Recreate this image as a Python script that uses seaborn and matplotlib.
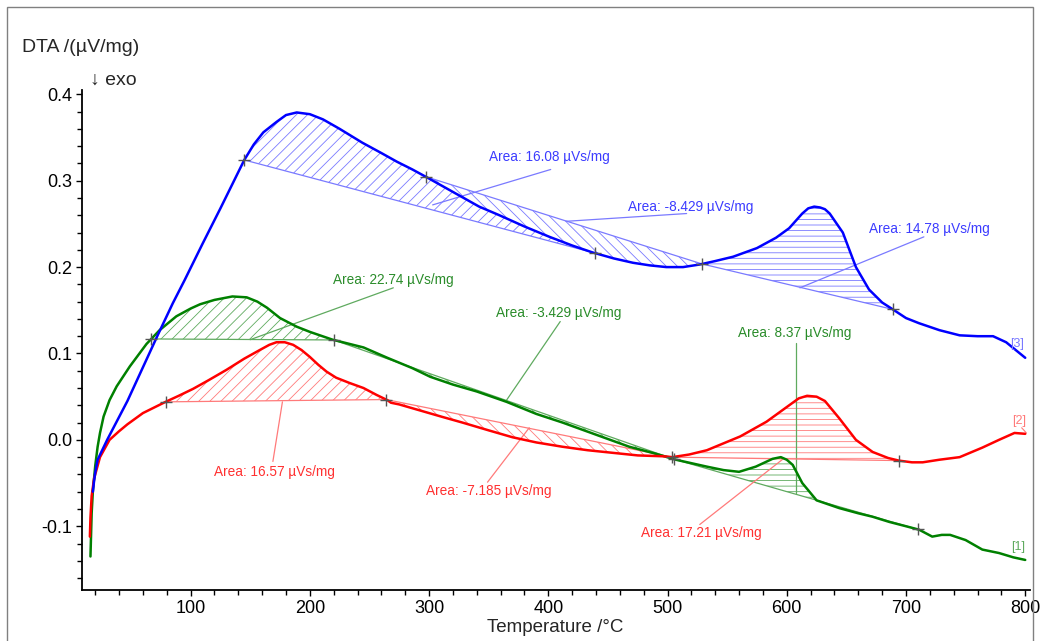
import numpy as np
import pandas as pd
import matplotlib
matplotlib.use("Agg")
import matplotlib.pyplot as plt
from matplotlib.patches import Rectangle
from matplotlib.ticker import MultipleLocator
import seaborn as sns

# ---------------- data ----------------
blue_T = [18, 19, 20, 22, 30, 47, 60, 72, 85, 95, 110, 125, 135, 145, 153, 161, 172, 180, 189,
          200, 211, 225, 244, 260, 273, 286, 298, 320, 342, 359, 380, 401, 420, 437, 455, 471,
          485, 499, 513, 527, 540, 555, 575, 591, 602, 613, 618, 623, 628, 632, 636, 647, 658,
          669, 680, 689, 700, 711, 728, 745, 760, 773, 784, 792, 800]
blue_y = [-0.06, -0.048, -0.038, -0.023, 0.0, 0.045, 0.084, 0.12, 0.158, 0.185, 0.227, 0.268,
          0.296, 0.324, 0.342, 0.356, 0.368, 0.376, 0.379, 0.377, 0.371, 0.36, 0.344, 0.332,
          0.322, 0.313, 0.304, 0.287, 0.27, 0.26, 0.247, 0.235, 0.225, 0.217, 0.21, 0.205,
          0.202, 0.2, 0.2, 0.203, 0.207, 0.212, 0.222, 0.234, 0.245, 0.262, 0.268, 0.27, 0.269,
          0.267, 0.262, 0.24, 0.2, 0.174, 0.159, 0.151, 0.141, 0.135, 0.127, 0.121, 0.12, 0.12,
          0.113, 0.104, 0.095]

red_T = [15.5, 16, 17, 19, 22, 24, 32, 40, 47, 60, 79, 90, 102, 115, 130, 145, 158, 166, 172,
         179, 186, 193, 200, 207, 214, 222, 233, 245, 256, 265, 268, 275, 290, 310, 328, 350,
         370, 390, 412, 433, 454, 475, 496, 504, 518, 533, 547, 561, 583, 602, 610, 617, 625,
         632, 644, 658, 672, 685, 694, 705, 714, 728, 745, 764, 778, 791, 800]
red_y = [-0.112, -0.09, -0.065, -0.045, -0.03, -0.02, 0.0, 0.01, 0.018, 0.031, 0.044, 0.051,
         0.059, 0.069, 0.081, 0.094, 0.104, 0.11, 0.113, 0.113, 0.11, 0.104, 0.096, 0.087,
         0.079, 0.072, 0.066, 0.06, 0.052, 0.046, 0.043, 0.041, 0.035, 0.027, 0.02, 0.011,
         0.003, -0.003, -0.008, -0.012, -0.015, -0.018, -0.019, -0.02, -0.017, -0.012, -0.004,
         0.004, 0.021, 0.04, 0.048, 0.051, 0.05, 0.045, 0.025, 0.0, -0.014, -0.021, -0.024,
         -0.026, -0.026, -0.023, -0.02, -0.009, 0.0, 0.008, 0.007]

green_T = [16, 16.5, 17, 18, 20, 22, 24, 27, 32, 38, 49, 63, 74, 88, 100, 108, 120, 135, 147,
           156, 164, 175, 189, 200, 219, 245, 265, 286, 301, 320, 340, 365, 390, 412, 440, 468,
           490, 507, 520, 533, 547, 560, 574, 588, 595, 600, 605, 613, 625, 644, 660, 672, 686,
           700, 711, 722, 730, 737, 750, 764, 778, 790, 800]
green_y = [-0.135, -0.11, -0.085, -0.06, -0.03, -0.008, 0.008, 0.027, 0.046, 0.062, 0.085,
           0.111, 0.127, 0.143, 0.152, 0.157, 0.162, 0.166, 0.165, 0.16, 0.153, 0.141, 0.131,
           0.125, 0.116, 0.107, 0.095, 0.083, 0.073, 0.064, 0.056, 0.044, 0.03, 0.02, 0.006,
           -0.008, -0.016, -0.023, -0.027, -0.031, -0.035, -0.037, -0.031, -0.022, -0.02,
           -0.023, -0.029, -0.05, -0.07, -0.079, -0.085, -0.089, -0.095, -0.1, -0.104, -0.112,
           -0.11, -0.11, -0.116, -0.127, -0.131, -0.136, -0.139]

# integration ranges (start, end) and areas in µVs/mg
blue_ranges = [(145, 439), (297, 529), (529, 689)]
blue_areas = [16.08, -8.429, 14.78]
red_ranges = [(79, 264), (264, 504), (504, 694)]
red_areas = [16.57, -7.185, 17.21]
green_ranges = [(67, 220), (220, 505), (505, 710)]
green_areas = [22.74, -3.429, 8.37]

series_tags = ["[1]", "[2]", "[3]"]

# ---------------- style ----------------
sns.set_style("white")
plt.rcParams["font.family"] = ["Liberation Sans", "DejaVu Sans"]
plt.rcParams["axes.unicode_minus"] = False
plt.rcParams["hatch.linewidth"] = 0.6

fig = plt.figure(figsize=(10.43, 6.41), dpi=100)
ax = fig.add_axes([82 / 1043, 1 - 590 / 641, (1030 - 82) / 1043, (590 - 90) / 641])

C_BLUE, C_RED, C_GREEN = "#0000ff", "#ff0000", "#008000"
L_BLUE, L_RED, L_GREEN = "#7a7aff", "#ff7a7a", "#5faa5f"
T_BLUE, T_RED, T_GREEN = "#3c3cff", "#ff3030", "#2a8c2a"

series = [
    ("green", green_T, green_y, green_ranges, green_areas, C_GREEN, L_GREEN, T_GREEN),
    ("red", red_T, red_y, red_ranges, red_areas, C_RED, L_RED, T_RED),
    ("blue", blue_T, blue_y, blue_ranges, blue_areas, C_BLUE, L_BLUE, T_BLUE),
]
hatches = ["///", "\\\\\\", "---"]

# label placement (label centre, leader start, leader end) in data units
label_pos = {
    "blue": [((401, 0.328), (402, 0.313), (303, 0.272)),
             ((519, 0.270), (516, 0.262), (415, 0.253)),
             ((720, 0.244), (715, 0.235), (611, 0.176))],
    "red": [((170, -0.037), (169, -0.025), (177, 0.044)),
            ((350, -0.059), (349, -0.049), (384, 0.014)),
            ((528, -0.108), (527, -0.098), (597, -0.022))],
    "green": [((270, 0.185), (270, 0.176), (150, 0.116)),
              ((409, 0.147), (410, 0.137), (365, 0.046)),
              ((607, 0.124), (608, 0.112), (608, -0.061))],
}

for name, T, Y, ranges, areas, c, lc, tc in series:
    T = np.asarray(T, float)
    Y = np.asarray(Y, float)
    # hatched areas and baselines
    for (t0, t1), h in zip(ranges, hatches):
        y0, y1 = np.interp(t0, T, Y), np.interp(t1, T, Y)
        inside = (T > t0) & (T < t1)
        ts = np.concatenate([[t0], T[inside], [t1]])
        cs = np.interp(ts, T, Y)
        bs = np.interp(ts, [t0, t1], [y0, y1])
        ax.fill_between(ts, cs, bs, facecolor="none", edgecolor=lc, hatch=h, linewidth=0)
        ax.plot([t0, t1], [y0, y1], color=lc, lw=0.9, zorder=2)
    # curve
    df = pd.DataFrame({"T": T, "y": Y})
    sns.lineplot(data=df, x="T", y="y", color=c, lw=1.8, ax=ax, sort=False,
                 estimator=None, zorder=3)
    # markers at integration limits
    pts = sorted(set([r[0] for r in ranges] + [r[1] for r in ranges]))
    ax.plot(pts, np.interp(pts, T, Y), ls="none", marker="+", ms=9, mew=1.0,
            color="#555555", zorder=4)
    # labels and leaders
    for a, (ctr, ls, le) in zip(areas, label_pos[name]):
        ax.plot([ls[0], le[0]], [ls[1], le[1]], color=lc, lw=0.9, zorder=2)
        ax.text(ctr[0], ctr[1], f"Area: {a} µVs/mg", color=tc, fontsize=9.8,
                ha="center", va="center", zorder=5)

# series tags
ax.text(793, 0.111, series_tags[2], color=L_BLUE, fontsize=9, ha="center", va="center")
ax.text(795, 0.022, series_tags[1], color=L_RED, fontsize=9, ha="center", va="center")
ax.plot([797, 801], [0.014, 0.008], color=L_RED, lw=0.8)
ax.text(794, -0.124, series_tags[0], color=L_GREEN, fontsize=9, ha="center", va="center")

# axes
ax.set_xlim(8.9, 804)
ax.set_ylim(-0.1738, 0.405)
ax.xaxis.set_major_locator(MultipleLocator(100))
ax.xaxis.set_minor_locator(MultipleLocator(20))
ax.yaxis.set_major_locator(MultipleLocator(0.1))
ax.yaxis.set_minor_locator(MultipleLocator(0.02))
ax.set_xticks([100, 200, 300, 400, 500, 600, 700, 800])
ax.set_yticks([-0.1, 0.0, 0.1, 0.2, 0.3, 0.4])
ax.set_yticklabels(["-0.1", "0.0", "0.1", "0.2", "0.3", "0.4"])
ax.tick_params(which="both", direction="out", length=4, width=1, colors="black",
               labelsize=13, left=True, bottom=True, pad=3)
ax.tick_params(which="minor", length=3.5)
for s in ["top", "right"]:
    ax.spines[s].set_visible(False)
for s in ["left", "bottom"]:
    ax.spines[s].set_color("black")
    ax.spines[s].set_linewidth(1.3)
ax.set_xlabel("")
ax.set_ylabel("")

fig.text(555 / 1043, 1 - 628 / 641, "Temperature /°C", fontsize=13.5, ha="center", va="center")
fig.text(22 / 1043, 1 - 47 / 641, "DTA /(µV/mg)", fontsize=14, ha="left", va="center")
fig.text(90 / 1043, 1 - 80 / 641, "↓ exo", fontsize=14, ha="left", va="center")

fig.patches.append(Rectangle((7 / 1043, -0.05), (1033 - 7) / 1043, 1.05 - 7 / 641,
                             transform=fig.transFigure, fill=False,
                             edgecolor="#808080", lw=1.0))

fig.savefig("out.png", dpi=100)
